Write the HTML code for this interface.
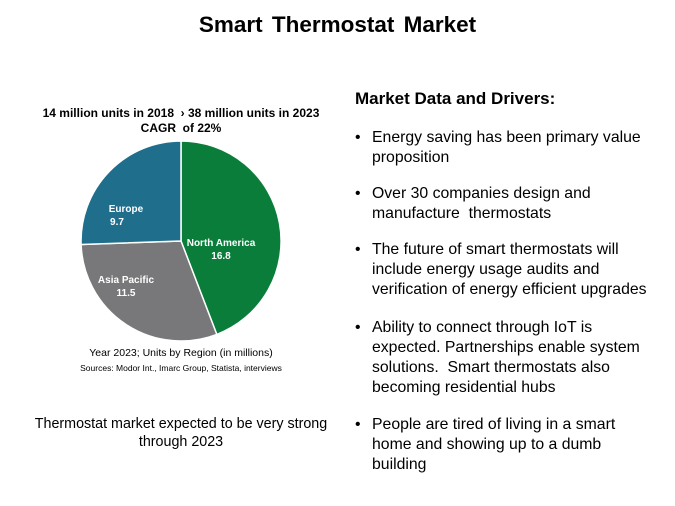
<!DOCTYPE html>
<html><head><style>
body{margin:0;width:675px;height:506px;background:#fff;font-family:"Liberation Sans",sans-serif;position:relative;overflow:hidden;color:#000}
.a{position:absolute;white-space:nowrap}
.b{position:absolute;left:355px;font-size:15.8px;line-height:20px}
.b span{position:absolute;left:17px;white-space:nowrap}
</style></head><body>
<div class="a" style="left:0;width:675px;text-align:center;top:12px;font-size:22.5px;font-weight:bold;word-spacing:3px">Smart Thermostat Market</div>
<div class="a" style="left:0;width:362px;text-align:center;top:106px;font-size:12px;font-weight:bold;line-height:15px">14 million units in 2018 &nbsp;› 38 million units in 2023<br>CAGR &nbsp;of 22%</div>
<svg style="position:absolute;left:0;top:0" width="675" height="506">
<path d="M181,241 L181,141 A100,100 0 0,1 216.8,334.4 Z" fill="#0a7d3a" stroke="#fff" stroke-width="1.5"/>
<path d="M181,241 L216.8,334.4 A100,100 0 0,1 81.1,244.5 Z" fill="#78787a" stroke="#fff" stroke-width="1.5"/>
<path d="M181,241 L81.1,244.5 A100,100 0 0,1 181,141 Z" fill="#1f6e8c" stroke="#fff" stroke-width="1.5"/>
<g font-family="Liberation Sans" font-size="10" font-weight="bold" fill="#fff" text-anchor="middle">
<text x="221" y="246">North America</text><text x="221" y="259">16.8</text>
<text x="126" y="283">Asia Pacific</text><text x="126" y="296">11.5</text>
<text x="126" y="212">Europe</text><text x="117" y="225">9.7</text>
</g></svg>
<div class="a" style="left:0;width:362px;text-align:center;top:347px;font-size:10.5px">Year 2023; Units by Region (in millions)</div>
<div class="a" style="left:0;width:362px;text-align:center;top:363px;font-size:8.5px">Sources: Modor Int., Imarc Group, Statista, interviews</div>
<div class="a" style="left:0;width:362px;text-align:center;top:415px;font-size:14.3px;line-height:18px">Thermostat market expected to be very strong<br>through 2023</div>
<div class="a" style="left:355px;top:89px;font-size:17px;font-weight:bold">Market Data and Drivers:</div>
<div class="b" style="top:128px">•<span>Energy saving has been primary value<br>proposition</span></div>
<div class="b" style="top:184px">•<span>Over 30 companies design and<br>manufacture &nbsp;thermostats</span></div>
<div class="b" style="top:240px">•<span>The future of smart thermostats will<br>include energy usage audits and<br>verification of energy efficient upgrades</span></div>
<div class="b" style="top:318px">•<span>Ability to connect through IoT is<br>expected. Partnerships enable system<br>solutions. &nbsp;Smart thermostats also<br>becoming residential hubs</span></div>
<div class="b" style="top:415px">•<span>People are tired of living in a smart<br>home and showing up to a dumb<br>building</span></div>
</body></html>
